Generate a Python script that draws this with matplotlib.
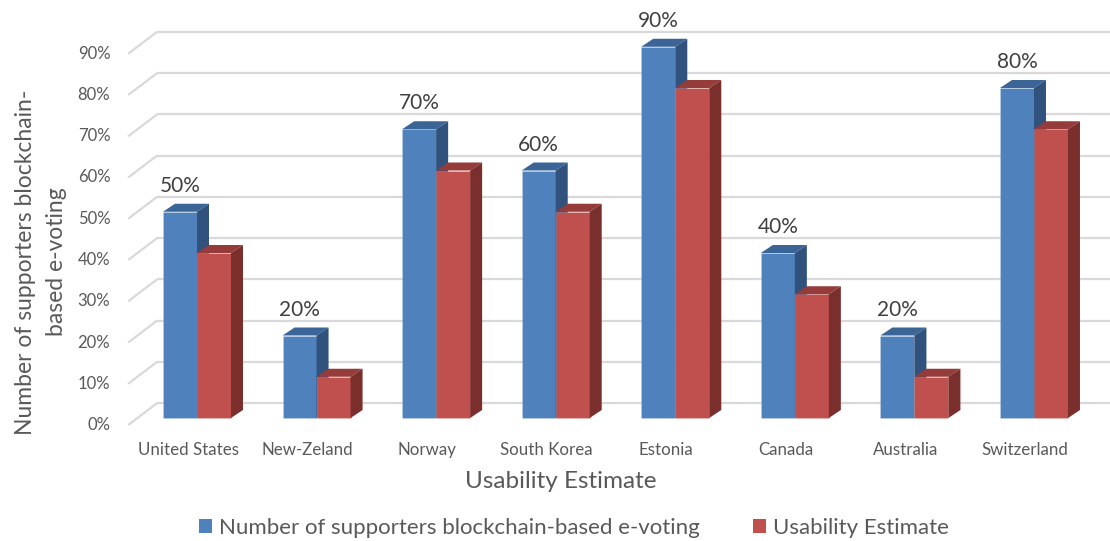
"""
3D-style grouped bar chart: blockchain e-voting supporters vs usability.
"""

import matplotlib.pyplot as plt
from matplotlib.patches import Polygon, Patch

countries = ['United States', 'New-Zeland', 'Norway', 'South Korea',
             'Estonia', 'Canada', 'Australia', 'Switzerland']
supporters = [50, 20, 70, 60, 90, 40, 20, 80]
usability = [40, 10, 60, 50, 80, 30, 10, 70]
ticks = list(range(0, 100, 10))

series_names = ['Number of supporters blockchain-based e-voting', 'Usability Estimate']
# front, top, side
blue = ('#4F81BD', '#3B6497', '#30527D')
red = ('#C0504D', '#953B39', '#7B2F2D')

plt.rcParams['font.family'] = ['Lato', 'DejaVu Sans']

fig = plt.figure(figsize=(11.1, 5.41), dpi=100)
ax = fig.add_axes([0, 0, 1, 1])

# scale: pixels per category / per percent
PX_X = 119.57
PX_Y = 4.125
ax.set_xlim(-197 / PX_X, (1110 - 197) / PX_X)
ax.set_ylim((418 - 541) / PX_Y, 418 / PX_Y)
ax.axis('off')

w = 34 / PX_X          # bar width
dx = 12 / PX_X         # bar depth
dy = 8 / PX_Y
fx, fy = -9 / PX_X, -7 / PX_Y    # floor front edge
bx, by = 20 / PX_X, 15 / PX_Y    # back wall
x_left = -0.5
x_right = len(countries) - 0.5

grid_color = '#D9D9D9'
for v in ticks:
    ax.plot([x_left + fx, x_left + bx], [v + fy, v + by],
            color=grid_color, lw=1.6, zorder=1, solid_capstyle='butt')
    ax.plot([x_left + bx, x_right + bx + 1], [v + by, v + by],
            color=grid_color, lw=1.6, zorder=1, solid_capstyle='butt')
    ax.text(x_left + fx - 0.15, v + fy, f'{v}%', ha='right', va='center',
            fontsize=12, color='#595959')


def bar3d(x0, h, colors):
    front, top, side = colors
    rect = ax.bar(x0, h, width=w, align='edge', color=front,
                  edgecolor='#FFFFFF30', lw=0.6, zorder=3)[0]
    x, y0, bw = rect.get_x(), rect.get_y(), rect.get_width()
    y1 = y0 + rect.get_height()
    ax.add_patch(Polygon([(x, y1), (x + bw, y1), (x + bw + dx, y1 + dy), (x + dx, y1 + dy)],
                         closed=True, facecolor=top, edgecolor='none', zorder=3))
    ax.add_patch(Polygon([(x + bw, y0), (x + bw + dx, y0 + dy), (x + bw + dx, y1 + dy), (x + bw, y1)],
                         closed=True, facecolor=side, edgecolor='none', zorder=3))


for i, (s, u) in enumerate(zip(supporters, usability)):
    bar3d(i - w, s, blue)
    bar3d(i, u, red)
    ax.text(i - w / 2, s + 6.3, f'{s}%', ha='center', va='center',
            fontsize=15, color='#404040')
    ax.text(i + fx, -7.8, countries[i], ha='center', va='center',
            fontsize=12.2, color='#595959')

fig.text(561 / 1110, 1 - 482 / 541, 'Usability Estimate', ha='center', va='center',
         fontsize=17.5, color='#595959')
fig.text(41 / 1110, 1 - 262 / 541, 'Number of supporters blockchain-\nbased e-voting',
         rotation=90, ha='center', va='center', fontsize=16.5, color='#595959',
         linespacing=1.55)

handles = [Patch(facecolor=blue[0]), Patch(facecolor=red[0])]
fig.legend(handles, series_names, loc='center', bbox_to_anchor=(574 / 1110, 1 - 528 / 541),
           ncol=2, frameon=False, fontsize=16, handlelength=0.6, handleheight=0.6,
           handletextpad=0.3, columnspacing=2.4, labelcolor='#595959')

plt.savefig('out.png', dpi=100)
plt.close()
